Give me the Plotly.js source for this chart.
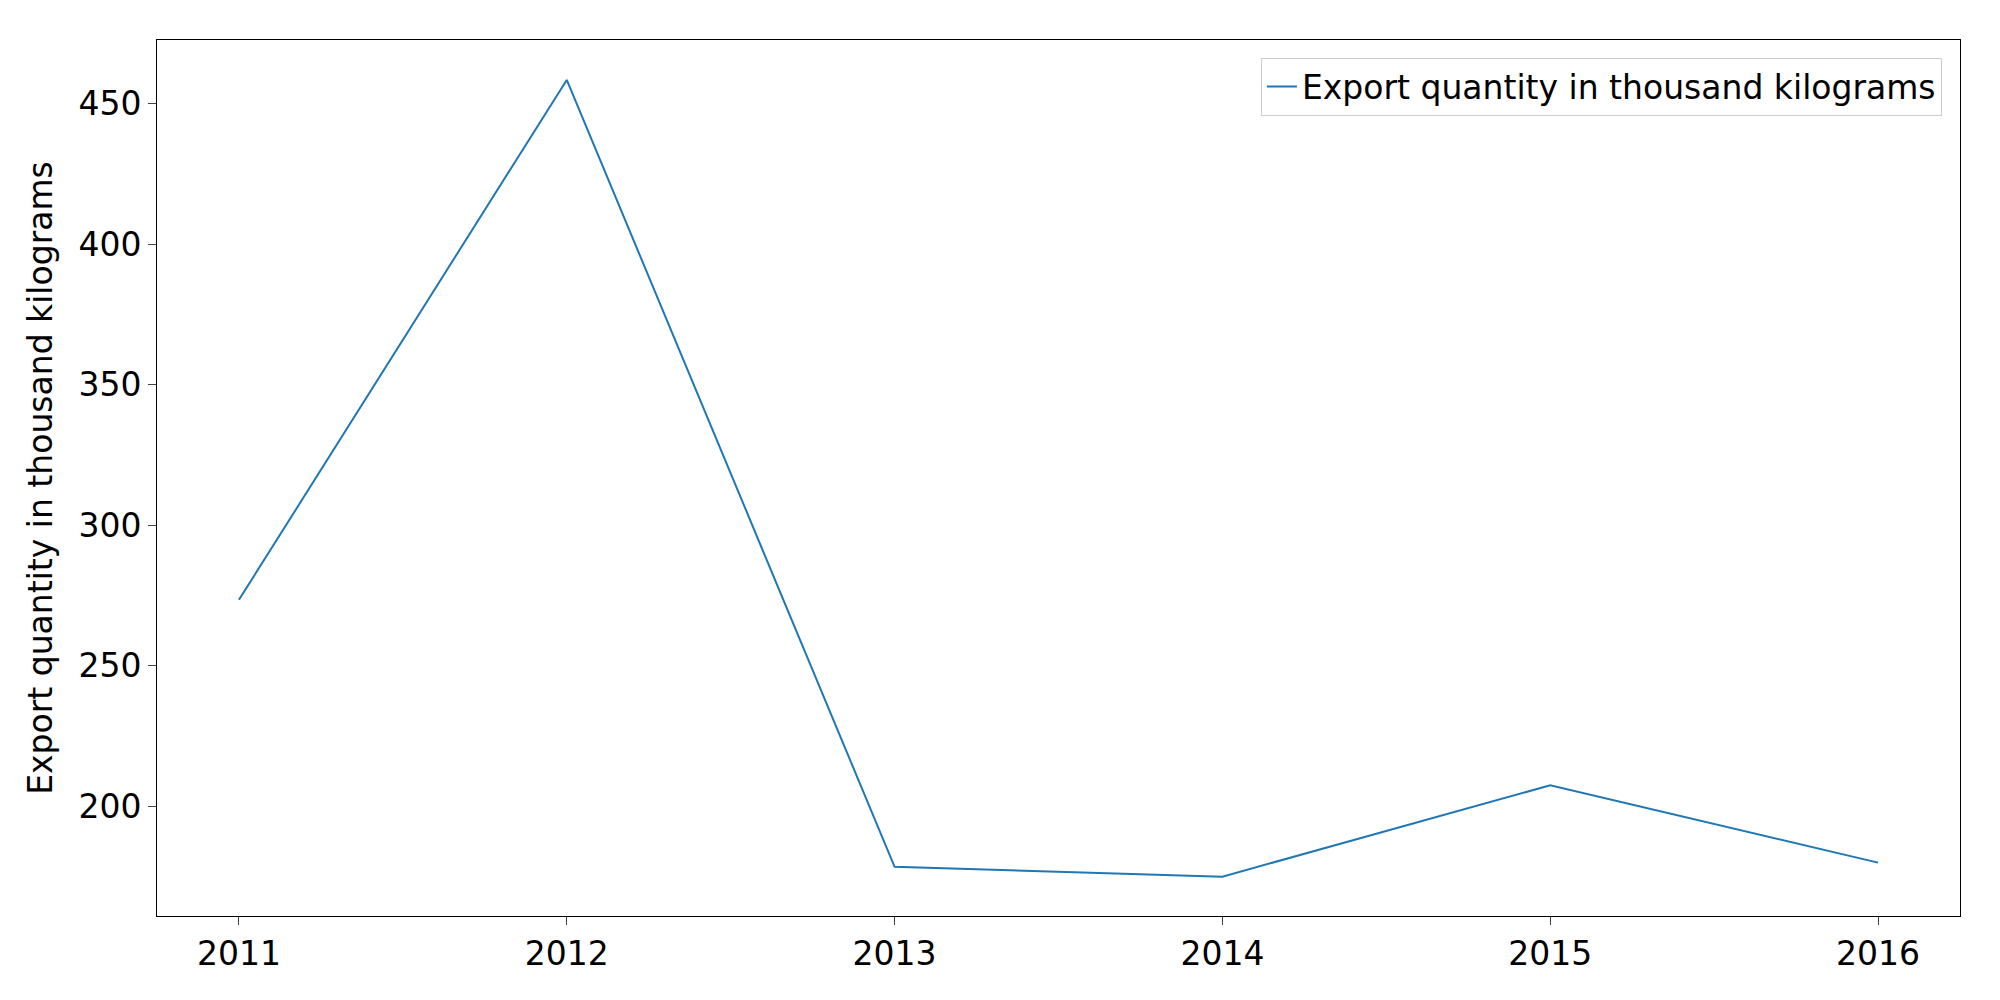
<!DOCTYPE html>
<html>
<head>
<script src="https://cdn.plot.ly/plotly-3.0.1.min.js"></script>
<style>body{margin:0;background:#fff}</style>
</head>
<body>
<div id="chart" style="width:2000px;height:1000px"></div>
<script>
const years = [2011, 2012, 2013, 2014, 2015, 2016];
const exportQty = [273.5, 458.5, 178.5, 175, 207.5, 180];

Plotly.newPlot('chart', [{
    x: years,
    y: exportQty,
    type: 'scatter',
    mode: 'lines',
    name: 'Export quantity in thousand kilograms',
    line: { color: '#1f77b4', width: 2 }
}], {
    width: 2000,
    height: 1000,
    font: { family: 'DejaVu Sans', size: 33, color: '#000' },
    plot_bgcolor: '#fff',
    paper_bgcolor: '#fff',
    margin: { l: 157, r: 40, t: 40, b: 84 },
    showlegend: true,
    legend: {
        x: 0.99, y: 0.98, xanchor: 'right', yanchor: 'top',
        bordercolor: '#ccc', borderwidth: 1,
        font: { size: 33 }
    },
    xaxis: {
        range: [2010.75, 2016.25],
        tickvals: years,
        showgrid: false, zeroline: false,
        showline: true, mirror: true, linecolor: '#000', linewidth: 1,
        ticks: 'outside', ticklen: 8
    },
    yaxis: {
        range: [161, 472.7],
        tickvals: [200, 250, 300, 350, 400, 450],
        showgrid: false, zeroline: false,
        showline: true, mirror: true, linecolor: '#000', linewidth: 1,
        ticks: 'outside', ticklen: 8,
        title: { text: 'Export quantity in thousand kilograms', font: { size: 33 }, standoff: 15 }
    }
}, { displayModeBar: false });
</script>
</body>
</html>
